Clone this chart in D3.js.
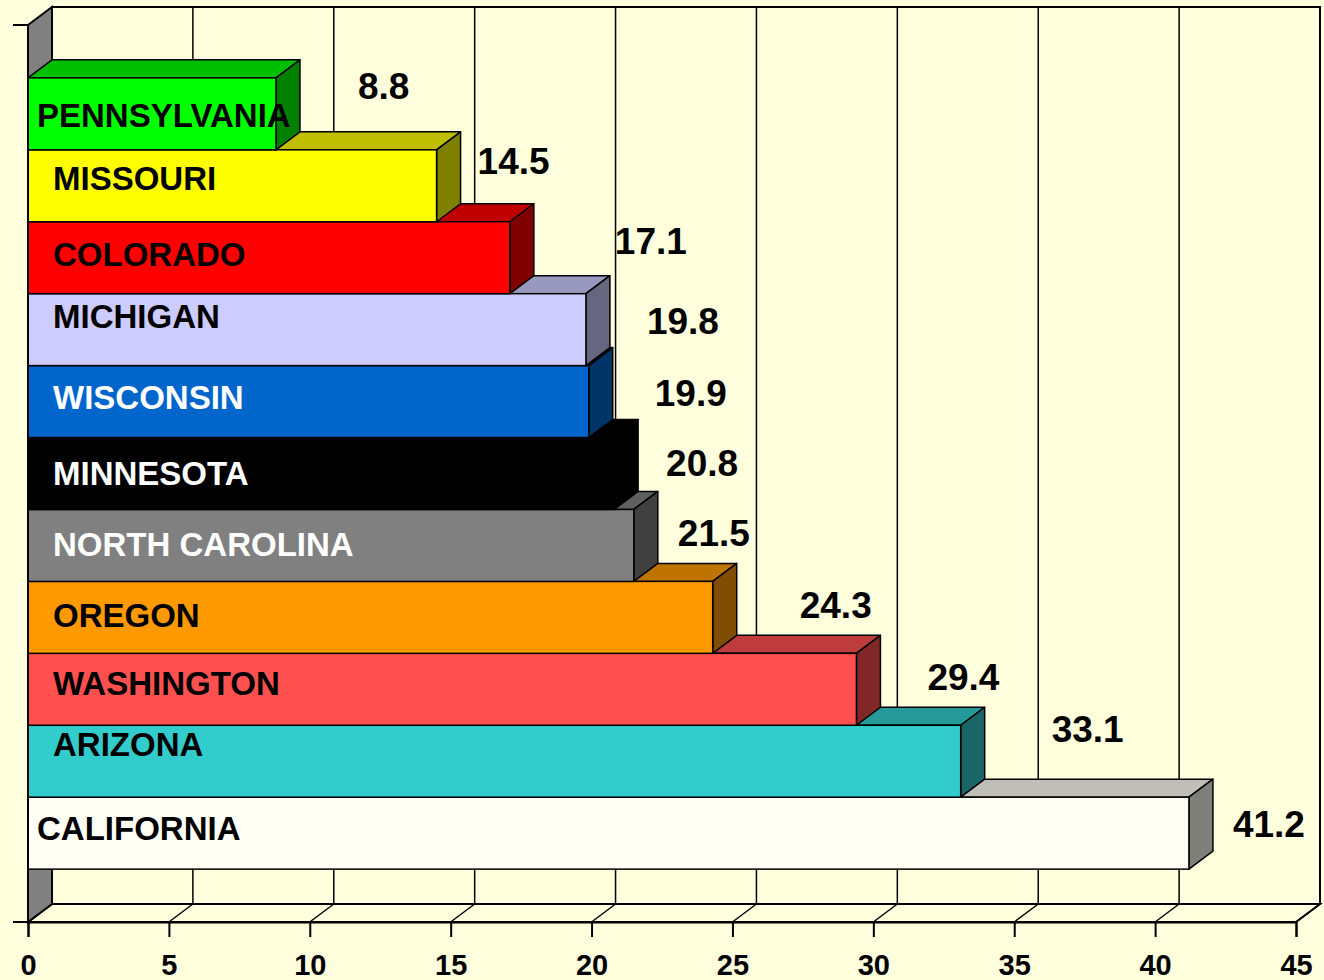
<!DOCTYPE html>
<html>
<head>
<meta charset="utf-8">
<script src="https://cdn.jsdelivr.net/npm/d3@7"></script>
<style>
  body { margin: 0; background: #FFFFDD; }
  svg { display: block; }
  text { font-family: Arial, "Liberation Sans", sans-serif; font-weight: bold; }
</style>
</head>
<body>
<div id="container"></div>
<script>
/* DATA */
const states = ["PENNSYLVANIA", "MISSOURI", "COLORADO", "MICHIGAN", "WISCONSIN", "MINNESOTA",
  "NORTH CAROLINA", "OREGON", "WASHINGTON", "ARIZONA", "CALIFORNIA"]
const values = [8.8, 14.5, 17.1, 19.8, 19.9, 20.8, 21.5, 24.3, 29.4, 33.1, 41.2]
const xTicks = [0, 5, 10, 15, 20, 25, 30, 35, 40, 45]

/* STYLE */
const barColors = ["#00FF00", "#FFFF00", "#FF0000", "#CCCCFF", "#0066CC", "#000000",
  "#808080", "#FF9900", "#FF5050", "#33CCCC", "#FFFFF5"]
const whiteText = ["WISCONSIN", "MINNESOTA", "NORTH CAROLINA"]

// hand placed labels, like the original (pixels)
const nameNudge = {
  "PENNSYLVANIA": [37, 1], "MISSOURI": [53, -8], "COLORADO": [53, -4], "MICHIGAN": [53, -14],
  "WISCONSIN": [53, -4], "MINNESOTA": [53, 0], "NORTH CAROLINA": [53, -1], "OREGON": [53, -2],
  "WASHINGTON": [53, -6], "ARIZONA": [53, -17], "CALIFORNIA": [37, -5]
}
const valueNudge = {
  "PENNSYLVANIA": [58, -28], "MISSOURI": [17, -25], "COLORADO": [81, -17], "MICHIGAN": [37, -9],
  "WISCONSIN": [42, -9], "MINNESOTA": [28, -11], "NORTH CAROLINA": [20, -13], "OREGON": [63, -13],
  "WASHINGTON": [47, -13], "ARIZONA": [67, -33], "CALIFORNIA": [20, -9]
}

const width = 1324, height = 980
const plot = { left: 28, right: 1296, top: 25, bottom: 922 }
const depth = { dx: 24, dy: -18 }

const shade = (c, k) => {
  const r = d3.rgb(c)
  return d3.rgb(r.r * k, r.g * k, r.b * k).formatHex()
}

/* SCALES */
const xScale = d3.scaleLinear()
  .domain([0, 45])
  .range([plot.left, plot.right])

const yScale = d3.scaleBand()
  .domain(states)
  .range([plot.top, plot.bottom])
  .paddingInner(0)
  .paddingOuter(0.735)

const data = states.map((s, i) => ({ state: s, value: values[i], color: barColors[i] }))

const svg = d3.select("#container")
  .append("svg")
  .attr("width", width)
  .attr("height", height)

svg.append("rect")
  .attr("width", width)
  .attr("height", height)
  .attr("fill", "#FFFFDD")

const pts = a => a.map(p => p.join(",")).join(" ")
const { dx, dy } = depth

/* WALLS */
// back wall
svg.append("rect")
  .attr("x", plot.left + dx)
  .attr("y", plot.top + dy)
  .attr("width", plot.right - plot.left)
  .attr("height", plot.bottom - plot.top)
  .attr("fill", "#FFFFDD")
  .attr("stroke", "black")
  .attr("stroke-width", 2)

// gridlines on back wall
svg.selectAll(".grid")
  .data(xTicks.slice(1, -1))
  .join("line")
  .attr("class", "grid")
  .attr("x1", d => xScale(d) + dx)
  .attr("x2", d => xScale(d) + dx)
  .attr("y1", plot.top + dy)
  .attr("y2", plot.bottom + dy)
  .attr("stroke", "black")
  .attr("stroke-width", 1.5)

// floor
svg.append("polygon")
  .attr("points", pts([[plot.left, plot.bottom], [plot.left + dx, plot.bottom + dy],
    [plot.right + dx, plot.bottom + dy], [plot.right, plot.bottom]]))
  .attr("fill", "#FFFFDD")
  .attr("stroke", "black")
  .attr("stroke-width", 2)

svg.selectAll(".floorline")
  .data(xTicks)
  .join("line")
  .attr("class", "floorline")
  .attr("x1", d => xScale(d))
  .attr("y1", plot.bottom)
  .attr("x2", d => xScale(d) + dx)
  .attr("y2", plot.bottom + dy)
  .attr("stroke", "black")
  .attr("stroke-width", 1.5)

// left wall
svg.append("polygon")
  .attr("points", pts([[plot.left, plot.top], [plot.left + dx, plot.top + dy],
    [plot.left + dx, plot.bottom + dy], [plot.left, plot.bottom]]))
  .attr("fill", "#808080")
  .attr("stroke", "black")
  .attr("stroke-width", 2)

/* BARS - bottom one first so upper bars sit on top */
const bars = svg.selectAll(".bar")
  .data(data.slice().reverse())
  .join("g")
  .attr("class", "bar")

bars.append("polygon") // top face
  .attr("points", d => {
    const x0 = xScale(0), x1 = xScale(d.value), y = yScale(d.state)
    return pts([[x0, y], [x0 + dx, y + dy], [x1 + dx, y + dy], [x1, y]])
  })
  .attr("fill", d => shade(d.color, 0.75))
  .attr("stroke", "black")
  .attr("stroke-width", 1.5)
  .attr("stroke-linejoin", "round")

bars.append("polygon") // side face
  .attr("points", d => {
    const x1 = xScale(d.value), y = yScale(d.state), h = yScale.bandwidth()
    return pts([[x1, y], [x1 + dx, y + dy], [x1 + dx, y + h + dy], [x1, y + h]])
  })
  .attr("fill", d => shade(d.color, 0.5))
  .attr("stroke", "black")
  .attr("stroke-width", 1.5)
  .attr("stroke-linejoin", "round")

bars.append("rect") // front face
  .attr("x", xScale(0))
  .attr("y", d => yScale(d.state))
  .attr("width", d => xScale(d.value) - xScale(0))
  .attr("height", yScale.bandwidth())
  .attr("fill", d => d.color)
  .attr("stroke", "black")
  .attr("stroke-width", 1.5)

/* AXES */
// y axis (front edge of left wall) with end ticks
svg.append("line")
  .attr("x1", plot.left).attr("x2", plot.left)
  .attr("y1", plot.top).attr("y2", plot.bottom)
  .attr("stroke", "black").attr("stroke-width", 2)
svg.selectAll(".ytick")
  .data([plot.top, plot.bottom])
  .join("line")
  .attr("class", "ytick")
  .attr("x1", plot.left - 15).attr("x2", plot.left)
  .attr("y1", d => d).attr("y2", d => d)
  .attr("stroke", "black").attr("stroke-width", 2)

const xAxis = d3.axisBottom(xScale)
  .tickValues(xTicks)
  .tickSize(15)
  .tickPadding(17)
  .tickFormat(d3.format("d"))

const gx = svg.append("g")
  .attr("transform", `translate(0,${plot.bottom})`)
  .call(xAxis)
gx.select(".domain").attr("stroke-width", 2)
gx.selectAll(".tick line").attr("stroke-width", 2)
gx.selectAll(".tick text")
  .attr("font-size", 29)
  .attr("font-family", "Arial, 'Liberation Sans', sans-serif")
  .attr("font-weight", "bold")
  .attr("fill", "black")

/* LABELS */
svg.selectAll(".name")
  .data(data)
  .join("text")
  .attr("class", "name")
  .attr("x", d => nameNudge[d.state][0])
  .attr("y", d => yScale(d.state) + yScale.bandwidth() / 2 + nameNudge[d.state][1])
  .attr("dy", "0.36em")
  .attr("font-size", 33)
  .attr("fill", d => whiteText.includes(d.state) ? "white" : "black")
  .text(d => d.state)

svg.selectAll(".value")
  .data(data)
  .join("text")
  .attr("class", "value")
  .attr("x", d => xScale(d.value) + dx + valueNudge[d.state][0])
  .attr("y", d => yScale(d.state) + yScale.bandwidth() / 2 + valueNudge[d.state][1])
  .attr("dy", "0.36em")
  .attr("font-size", 37)
  .attr("fill", "black")
  .text(d => d.value.toFixed(1))
</script>
</body>
</html>
